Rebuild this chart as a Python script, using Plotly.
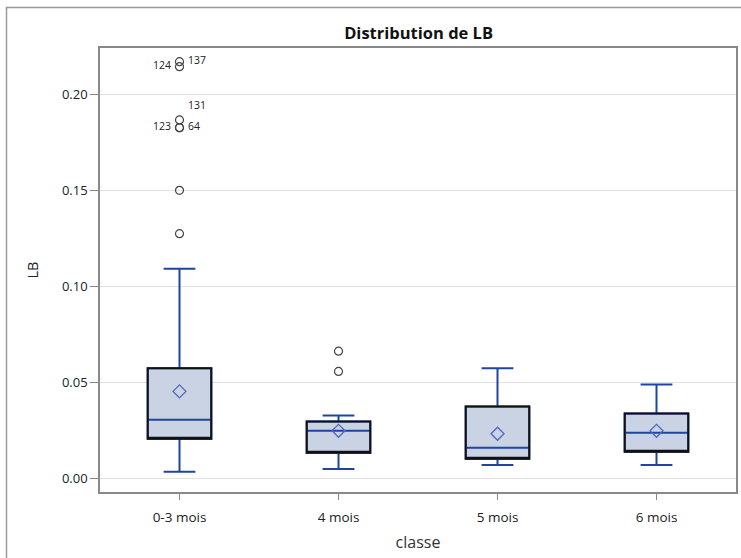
import plotly.graph_objects as go

categories = ["0-3 mois", "4 mois", "5 mois", "6 mois"]
q1 = [0.0209, 0.0136, 0.0105, 0.0141]
median = [0.0308, 0.0251, 0.0162, 0.0240]
q3 = [0.0575, 0.0298, 0.0376, 0.0340]
lower_whisker = [0.0037, 0.0052, 0.0073, 0.0073]
upper_whisker = [0.1093, 0.0330, 0.0575, 0.0491]
means = [0.0455, 0.0250, 0.0235, 0.0250]

outlier_cat = ["0-3 mois"] * 7 + ["4 mois"] * 2
outlier_val = [0.1275, 0.1500, 0.1826, 0.1826, 0.1866, 0.2143, 0.2169, 0.0559, 0.0664]

label_left_val = [0.2143, 0.1826]
label_left_txt = ["124", "123"]
label_right_val = [0.2169, 0.1826]
label_right_txt = ["137", "64"]
label_top_val = [0.1866]
label_top_txt = ["131"]

BLUE = "#1f45a0"
FILL = "#c9d3e4"
FONT = "Open Sans"

fig = go.Figure()

fig.add_trace(go.Box(
    x=categories, q1=q1, median=median, q3=q3,
    lowerfence=lower_whisker, upperfence=upper_whisker,
    fillcolor=FILL, line=dict(color=BLUE, width=2),
    width=0.4, whiskerwidth=0.5, boxpoints=False, showlegend=False,
    hoverinfo="skip",
))
fig.add_trace(go.Box(
    x=categories, q1=q1, median=q1, q3=q3,
    lowerfence=q1, upperfence=q3,
    fillcolor="rgba(0,0,0,0)", line=dict(color="#111111", width=2),
    width=0.4, whiskerwidth=0, boxpoints=False, showlegend=False,
    hoverinfo="skip",
))
fig.add_trace(go.Scatter(
    x=categories, y=means, mode="markers",
    marker=dict(symbol="diamond-open", size=10, color="#5566bb", line=dict(width=1.3)),
    showlegend=False,
))
fig.add_trace(go.Scatter(
    x=outlier_cat, y=outlier_val, mode="markers",
    marker=dict(symbol="circle-open", size=8, color="#444444", line=dict(width=1.2)),
    showlegend=False,
))
lab_font = dict(family=FONT, size=10.5, color="#222222")
ghost = dict(size=12, opacity=0)
fig.add_trace(go.Scatter(
    x=["0-3 mois"] * len(label_left_val), y=label_left_val, mode="markers+text",
    marker=ghost, text=label_left_txt, textposition="middle left",
    textfont=lab_font, showlegend=False,
))
fig.add_trace(go.Scatter(
    x=["0-3 mois"] * len(label_right_val), y=label_right_val, mode="markers+text",
    marker=ghost, text=label_right_txt, textposition="middle right",
    textfont=lab_font, showlegend=False,
))
fig.add_trace(go.Scatter(
    x=["0-3 mois"] * len(label_top_val), y=label_top_val, mode="markers+text",
    marker=ghost, text=label_top_txt, textposition="top right",
    textfont=lab_font, showlegend=False,
))

fig.update_layout(
    width=741, height=558,
    margin=dict(l=100, r=3, t=48, b=66),
    paper_bgcolor="white", plot_bgcolor="white",
    font=dict(family=FONT, color="#222222"),
    title=dict(text="<b>Distribution de LB</b>", x=0.5649, xanchor="center",
               y=0.941, yanchor="middle", font=dict(size=16.5, color="#111111")),
    xaxis=dict(
        type="category", categoryorder="array", categoryarray=categories,
        range=[-0.5, 3.5],
        title=dict(text="classe", font=dict(size=16, color="#333333"), standoff=12),
        showline=True, linecolor="#888888", linewidth=1.5, mirror=True,
        ticks="outside", ticklen=6, tickcolor="#888888", ticklabelstandoff=6,
        tickfont=dict(size=13.5, color="#222222"), showgrid=False, zeroline=False,
    ),
    yaxis=dict(
        range=[-0.0068, 0.224],
        tickvals=[0, 0.05, 0.10, 0.15, 0.20], tickformat=".2f",
        title=dict(text="LB", font=dict(size=14.5, color="#222222"), standoff=20),
        showline=True, linecolor="#888888", linewidth=1.5, mirror=True,
        ticks="outside", ticklen=8, tickcolor="#888888",
        tickfont=dict(size=13, color="#222222"),
        showgrid=True, gridcolor="#e2e2e2", gridwidth=1.2, zeroline=False,
    ),
    shapes=[dict(type="rect", xref="paper", yref="paper",
                 x0=-0.147, x1=1.02, y0=-0.16, y1=1.091,
                 line=dict(color="#999999", width=1.5))],
)

fig.write_html("out.html")
